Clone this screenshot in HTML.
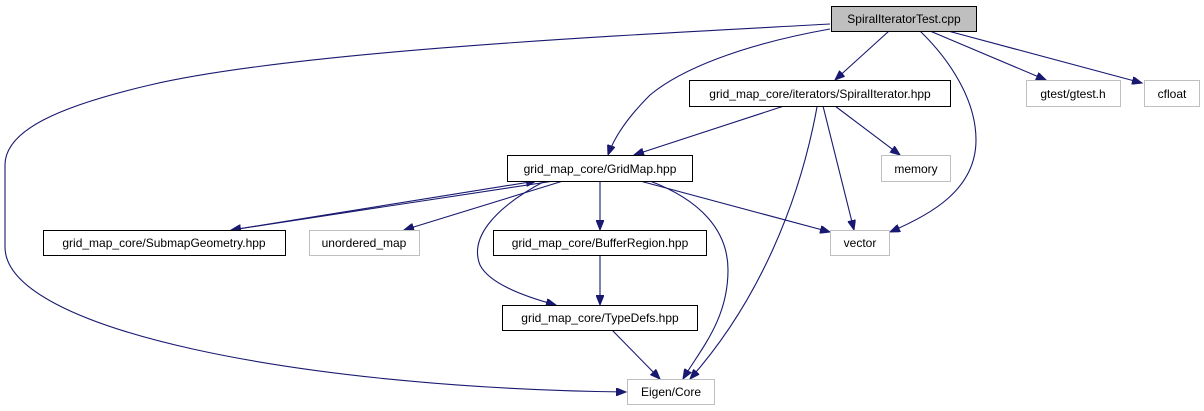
<!DOCTYPE html>
<html><head><meta charset="utf-8"><style>
html,body{margin:0;padding:0;background:#fff;}
svg{display:block;}
text{font-family:"Liberation Sans",Helvetica,Arial,sans-serif;font-size:12px;fill:#000;}
</style></head><body>
<svg width="1204" height="411" viewBox="0 0 1204 411" xmlns="http://www.w3.org/2000/svg">
<defs>
<marker id="a" markerWidth="11" markerHeight="8" refX="10" refY="4" orient="auto" markerUnits="userSpaceOnUse">
<path d="M0,0 L10,4 L0,8 z" fill="#191970" stroke="#191970"/>
</marker>
</defs>
<g fill="none" stroke="#191970" stroke-width="1.1" marker-end="url(#a)">
<path d="M830,24 C650,34 300,50 150,85 C60,106 5,130 5,165 L5,247 C5,330 300,388 626,392"/>
<path d="M830,29 C740,45 680,70 650,95 C630,115 615,135 608,155"/>
<path d="M889,31 L835,80"/>
<path d="M920,31 C950,60 976,100 976,140 C976,190 930,215 890,232"/>
<path d="M930,31 L1046,80"/>
<path d="M948,31 L1142,83"/>
<path d="M784,106 L634,155"/>
<path d="M835,106 L900,155"/>
<path d="M823,106 L854,230"/>
<path d="M817,107 C800,200 760,300 690,379"/>
<path d="M554,181 L231,230"/>
<path d="M238,229 L536,181"/>
<path d="M563,181 L404,230"/>
<path d="M545,181 C490,210 470,240 480,265 C490,285 530,298 556,305"/>
<path d="M600,181 L600,230"/>
<path d="M640,181 L830,232"/>
<path d="M650,181 C700,200 728,230 728,270 C728,320 700,350 683,379"/>
<path d="M600,255 L600,305"/>
<path d="M612,330 L660,379"/>
</g>
<g stroke-width="1">
<rect x="831.5" y="6.5" width="145" height="25" fill="#bfbfbf" stroke="#000"/>
<rect x="689.5" y="80.5" width="261" height="26" fill="#fff" stroke="#000"/>
<rect x="1026.5" y="80.5" width="94" height="26" fill="#fff" stroke="#bfbfbf"/>
<rect x="1144.5" y="80.5" width="55" height="26" fill="#fff" stroke="#bfbfbf"/>
<rect x="507.5" y="155.5" width="185" height="26" fill="#fff" stroke="#000"/>
<rect x="881.5" y="155.5" width="69" height="26" fill="#fff" stroke="#bfbfbf"/>
<rect x="43.5" y="230.5" width="242" height="25" fill="#fff" stroke="#000"/>
<rect x="309.5" y="230.5" width="110" height="25" fill="#fff" stroke="#bfbfbf"/>
<rect x="493.5" y="230.5" width="213" height="25" fill="#fff" stroke="#000"/>
<rect x="830.5" y="230.5" width="59" height="25" fill="#fff" stroke="#bfbfbf"/>
<rect x="502.5" y="305.5" width="195" height="25" fill="#fff" stroke="#000"/>
<rect x="627.5" y="379.5" width="87" height="25" fill="#fff" stroke="#bfbfbf"/>
</g>
<g text-anchor="middle">
<text x="904" y="23">SpiralIteratorTest.cpp</text>
<text x="820" y="98">grid_map_core/iterators/SpiralIterator.hpp</text>
<text x="1073" y="98">gtest/gtest.h</text>
<text x="1172" y="98">cfloat</text>
<text x="600" y="173">grid_map_core/GridMap.hpp</text>
<text x="916" y="173">memory</text>
<text x="164" y="247">grid_map_core/SubmapGeometry.hpp</text>
<text x="364" y="247">unordered_map</text>
<text x="600" y="247">grid_map_core/BufferRegion.hpp</text>
<text x="860" y="247">vector</text>
<text x="600" y="322">grid_map_core/TypeDefs.hpp</text>
<text x="671" y="396">Eigen/Core</text>
</g>
</svg>
</body></html>
